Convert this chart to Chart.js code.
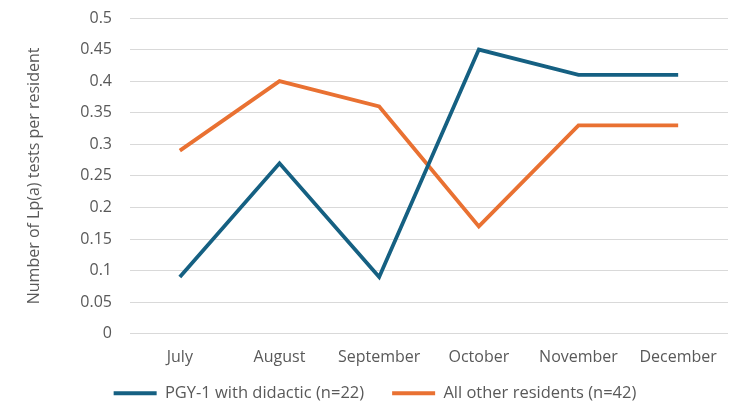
<!DOCTYPE html>
<html>
<head>
<meta charset="utf-8">
<script src="https://cdn.jsdelivr.net/npm/chart.js@4.4.1/dist/chart.umd.min.js"></script>
<style>
  html, body { margin: 0; padding: 0; background: #fff; }
  #wrap { width: 750px; height: 411px; }
</style>
</head>
<body>
<div id="wrap"><canvas id="chart"></canvas></div>
<script>
const months = ['July', 'August', 'September', 'October', 'November', 'December'];
const pgy1 = [0.09, 0.27, 0.09, 0.45, 0.41, 0.41];
const others = [0.29, 0.40, 0.36, 0.17, 0.33, 0.33];
const yTicks = [0, 0.05, 0.1, 0.15, 0.2, 0.25, 0.3, 0.35, 0.4, 0.45, 0.5];

const grey = '#595959';
const font = '"Open Sans", sans-serif';

// legend padding is big (wide gap between items), so trim its box,
// move it up a bit and draw it without clipping
const legendFix = {
  id: 'legendFix',
  afterInit(chart) {
    const lg = chart.legend;
    const fit = lg.fit.bind(lg);
    lg.fit = function() {
      fit();
      this.height = 30;
    };
    lg.draw = function() {
      if (this.options.display) this._draw();
    };
  },
  afterLayout(chart) {
    chart.legend.top -= 16;
    chart.legend.bottom -= 16;
    chart.legend.left += 11;
    chart.legend.right += 11;
  }
};

let chart = new Chart(document.getElementById('chart'), {
  type: 'line',
  data: {
    labels: months,
    datasets: [
      {
        label: 'PGY-1 with didactic (n=22)',
        data: pgy1,
        borderColor: '#156082',
        backgroundColor: '#156082',
        borderWidth: 3.8,
        pointRadius: 0,
        pointStyle: 'line',
        tension: 0
      },
      {
        label: 'All other residents (n=42)',
        data: others,
        borderColor: '#E97132',
        backgroundColor: '#E97132',
        borderWidth: 3.8,
        pointRadius: 0,
        pointStyle: 'line',
        tension: 0
      }
    ]
  },
  options: {
    responsive: true,
    maintainAspectRatio: false,
    animation: false,
    layout: { padding: { left: 0, right: 22, top: 18, bottom: 8 } },
    plugins: {
      tooltip: { enabled: false },
      legend: {
        position: 'bottom',
        labels: {
          usePointStyle: true,
          pointStyleWidth: 43,
          boxHeight: 4,
          padding: 28,
          color: grey,
          font: { family: font, size: 16.5 }
        }
      }
    },
    scales: {
      x: {
        offset: true,
        grid: { display: false },
        border: { display: false },
        ticks: { color: grey, padding: 6, font: { family: font, size: 16 } }
      },
      y: {
        min: 0,
        max: 0.5,
        afterBuildTicks(scale) {
          scale.ticks = yTicks.map(v => ({ value: v }));
        },
        afterFit(scale) {
          scale.width = 130;
          scale.paddingTop = 0;
          scale.paddingBottom = 0;
        },
        grid: { color: '#d9d9d9', lineWidth: 1, drawTicks: false },
        border: { display: false },
        ticks: {
          color: grey,
          padding: 18,
          font: { family: font, size: 16 },
          callback: v => String(v)
        },
        title: {
          display: true,
          text: 'Number of Lp(a) tests per resident',
          color: grey,
          padding: { top: 25, bottom: 0 },
          font: { family: font, size: 16 }
        }
      }
    }
  },
  plugins: [legendFix]
});
</script>
</body>
</html>
